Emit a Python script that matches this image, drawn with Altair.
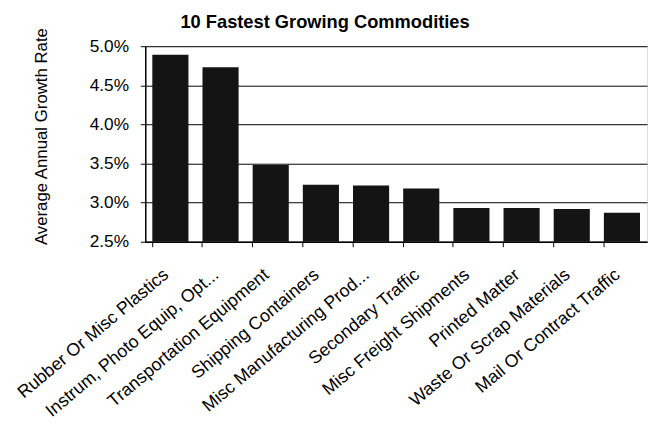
import altair as alt
import pandas as pd

categories = [
    "Rubber Or Misc Plastics",
    "Instrum, Photo Equip, Opt...",
    "Transportation Equipment",
    "Shipping Containers",
    "Misc Manufacturing Prod...",
    "Secondary Traffic",
    "Misc Freight Shipments",
    "Printed Matter",
    "Waste Or Scrap Materials",
    "Mail Or Contract Traffic",
]
growth_rates = [0.0489, 0.0473, 0.0348, 0.0323, 0.0322, 0.0318, 0.0293, 0.0293, 0.0292, 0.0287]
y_ticks = [0.025, 0.030, 0.035, 0.040, 0.045, 0.050]
y_min = 0.025
y_max = 0.050

df = pd.DataFrame({"commodity": categories, "rate": growth_rates})

FONT = "Liberation Sans"

chart = (
    alt.Chart(df)
    .mark_bar(color="#141414")
    .encode(
        x=alt.X(
            "commodity:N",
            sort=categories,
            scale=alt.Scale(paddingInner=0.28, paddingOuter=0.14),
            axis=alt.Axis(
                title=None,
                labelAngle=-40,
                labelAlign="right",
                labelBaseline="middle",
                labelFont=FONT,
                labelFontSize=18,
                labelColor="black",
                labelOverlap=False,
                labelLimit=400,
                labelFlush=False,
                bandPosition=0,
                labelOffset=-4,
                labelPadding=26,
                tickSize=5,
                tickColor="black",
                domainColor="black",
                domainWidth=1.5,
                grid=False,
            ),
        ),
        y=alt.Y(
            "rate:Q",
            scale=alt.Scale(domain=[y_min, y_max], zero=False, nice=False),
            axis=alt.Axis(
                title="Average Annual Growth Rate",
                titleFont=FONT,
                titleFontSize=17,
                titleFontWeight="normal",
                titleColor="black",
                titleAngle=270,
                titleAlign="center",
                titleBaseline="alphabetic",
                titleX=-100,
                titleY=91,
                values=y_ticks,
                format=".1%",
                labelFont=FONT,
                labelFontSize=17.5,
                labelColor="black",
                labelPadding=12,
                tickSize=5,
                tickColor="black",
                domainColor="black",
                domainWidth=1.5,
                gridColor="black",
                gridWidth=1,
                gridOpacity=1,
            ),
        ),
        y2=alt.datum(y_min),
    )
    .properties(
        width=508,
        height=198,
        title=alt.TitleParams(
            "10 Fastest Growing Commodities",
            font=FONT,
            fontSize=18.5,
            fontWeight="bold",
            color="black",
            anchor="middle",
            frame="group",
            dx=-72,
            dy=21,
            offset=17,
        ),
        autosize=alt.AutoSizeParams(type="none"),
        padding={"left": 139, "top": 36, "right": 2, "bottom": 194},
    )
    .configure_view(stroke=None)
    .configure(background="white")
)

chart.save("out.html", embed_options={"renderer": "svg", "actions": False})
